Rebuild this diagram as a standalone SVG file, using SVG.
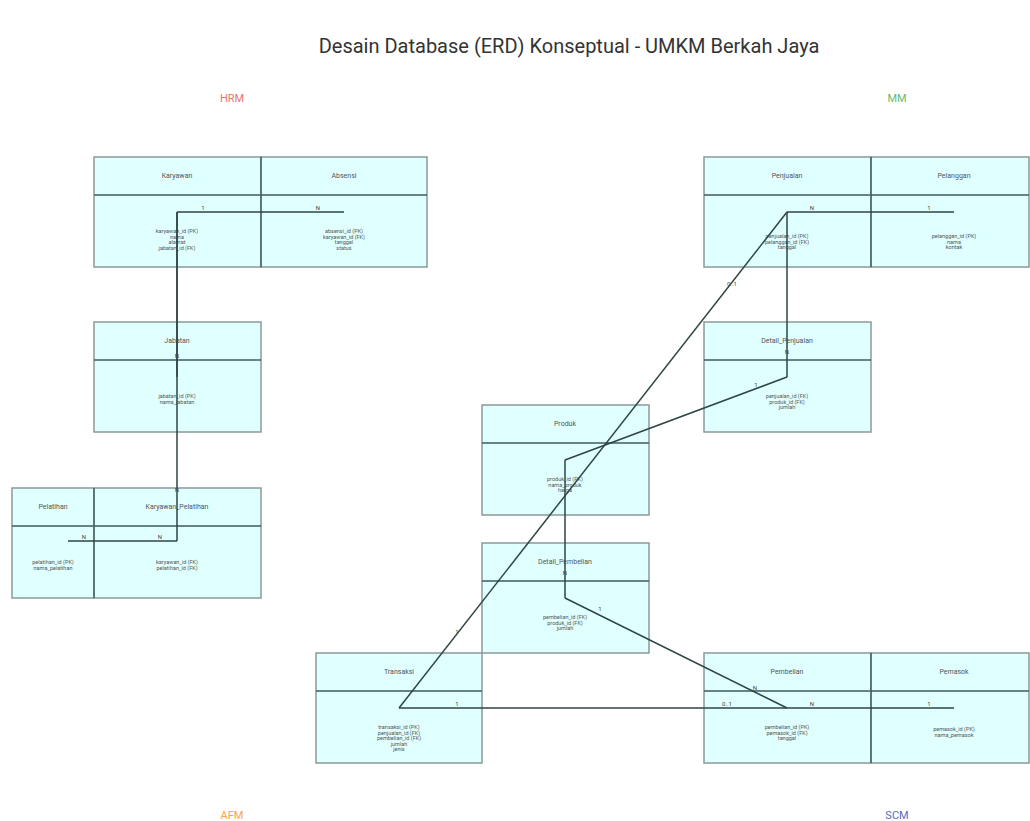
<svg xmlns="http://www.w3.org/2000/svg" width="1030" height="821" viewBox="0 0 1030 821">
<style>
.box{fill:#e0ffff;stroke:#8a9a9a;stroke-width:1.5}
.div{stroke:#3f5a5a;stroke-width:1.3}
.nm{font-family:Roboto,"Liberation Sans",sans-serif;font-size:7px;fill:#555;text-anchor:middle}
.at{font-family:Roboto,"Liberation Sans",sans-serif;font-size:5.5px;fill:#555;text-anchor:middle}
.cn{fill:none;stroke:#2f4545;stroke-width:1.5}
.lb{font-family:Roboto,"Liberation Sans",sans-serif;font-size:6px;fill:#444;text-anchor:middle}
.rg{font-family:Roboto,"Liberation Sans",sans-serif;font-size:11px;text-anchor:middle}
</style>
<rect width="1030" height="821" fill="#ffffff"/>
<text x="569" y="53" font-family="Roboto,'Liberation Sans',sans-serif" font-size="20" fill="#333" text-anchor="middle">Desain Database (ERD) Konseptual - UMKM Berkah Jaya</text>
<text class="rg" x="232" y="102" fill="#e57373">HRM</text>
<text class="rg" x="897" y="102" fill="#66bb6a">MM</text>
<text class="rg" x="232" y="819" fill="#ffa040">AFM</text>
<text class="rg" x="897" y="819" fill="#5c6bc0">SCM</text>

<g id="karyawan"><rect class="box" x="94" y="157" width="167" height="110"/><line class="div" x1="94" y1="195" x2="261" y2="195"/><text class="nm" x="177" y="178">Karyawan</text>
<text class="at" x="177" y="233">karyawan_id (PK)</text><text class="at" x="177" y="238.5">nama</text><text class="at" x="177" y="244">alamat</text><text class="at" x="177" y="249.5">jabatan_id (FK)</text></g>
<g id="absensi"><rect class="box" x="261" y="157" width="166" height="110"/><line class="div" x1="261" y1="195" x2="427" y2="195"/><line class="div" x1="261" y1="157" x2="261" y2="267"/><text class="nm" x="344" y="178">Absensi</text>
<text class="at" x="344" y="233">absensi_id (PK)</text><text class="at" x="344" y="238.5">karyawan_id (FK)</text><text class="at" x="344" y="244">tanggal</text><text class="at" x="344" y="249.5">status</text></g>
<g id="jabatan"><rect class="box" x="94" y="322" width="167" height="110"/><line class="div" x1="94" y1="360" x2="261" y2="360"/><text class="nm" x="177" y="343">Jabatan</text>
<text class="at" x="177" y="398">jabatan_id (PK)</text><text class="at" x="177" y="403.5">nama_jabatan</text></g>
<g id="pelatihan"><rect class="box" x="12" y="488" width="82" height="110"/><line class="div" x1="12" y1="526" x2="94" y2="526"/><text class="nm" x="53" y="509">Pelatihan</text>
<text class="at" x="53" y="564">pelatihan_id (PK)</text><text class="at" x="53" y="569.5">nama_pelatihan</text></g>
<g id="karyawan_pelatihan"><rect class="box" x="94" y="488" width="167" height="110"/><line class="div" x1="94" y1="526" x2="261" y2="526"/><line class="div" x1="94" y1="488" x2="94" y2="598"/><text class="nm" x="177" y="509">Karyawan_Pelatihan</text>
<text class="at" x="177" y="564">karyawan_id (FK)</text><text class="at" x="177" y="569.5">pelatihan_id (FK)</text></g>

<g id="penjualan"><rect class="box" x="704" y="157" width="167" height="110"/><line class="div" x1="704" y1="195" x2="871" y2="195"/><text class="nm" x="787" y="178">Penjualan</text>
<text class="at" x="787" y="238">penjualan_id (PK)</text><text class="at" x="787" y="243.5">pelanggan_id (FK)</text><text class="at" x="787" y="249">tanggal</text></g>
<g id="pelanggan"><rect class="box" x="871" y="157" width="158" height="110"/><line class="div" x1="871" y1="195" x2="1029" y2="195"/><line class="div" x1="871" y1="157" x2="871" y2="267"/><text class="nm" x="954" y="178">Pelanggan</text>
<text class="at" x="954" y="238">pelanggan_id (PK)</text><text class="at" x="954" y="243.5">nama</text><text class="at" x="954" y="249">kontak</text></g>
<g id="detail_penjualan"><rect class="box" x="704" y="322" width="167" height="110"/><line class="div" x1="704" y1="360" x2="871" y2="360"/><text class="nm" x="787" y="343">Detail_Penjualan</text>
<text class="at" x="787" y="398">penjualan_id (FK)</text><text class="at" x="787" y="403.5">produk_id (FK)</text><text class="at" x="787" y="409">jumlah</text></g>
<g id="produk"><rect class="box" x="482" y="405" width="167" height="110"/><line class="div" x1="482" y1="443" x2="649" y2="443"/><text class="nm" x="565" y="426">Produk</text>
<text class="at" x="565" y="481">produk_id (PK)</text><text class="at" x="565" y="486.5">nama_produk</text><text class="at" x="565" y="492">harga</text></g>
<g id="detail_pembelian"><rect class="box" x="482" y="543" width="167" height="110"/><line class="div" x1="482" y1="581" x2="649" y2="581"/><text class="nm" x="565" y="564">Detail_Pembelian</text>
<text class="at" x="565" y="619">pembelian_id (FK)</text><text class="at" x="565" y="624.5">produk_id (FK)</text><text class="at" x="565" y="630">jumlah</text></g>
<g id="transaksi"><rect class="box" x="316" y="653" width="166" height="110"/><line class="div" x1="316" y1="691" x2="482" y2="691"/><text class="nm" x="399" y="674">Transaksi</text>
<text class="at" x="399" y="729">transaksi_id (PK)</text><text class="at" x="399" y="734.5">penjualan_id (FK)</text><text class="at" x="399" y="740">pembelian_id (FK)</text><text class="at" x="399" y="745.5">jumlah</text><text class="at" x="399" y="751">jenis</text></g>
<g id="pembelian"><rect class="box" x="704" y="653" width="167" height="110"/><line class="div" x1="704" y1="691" x2="871" y2="691"/><text class="nm" x="787" y="674">Pembelian</text>
<text class="at" x="787" y="729">pembelian_id (PK)</text><text class="at" x="787" y="734.5">pemasok_id (FK)</text><text class="at" x="787" y="740">tanggal</text></g>
<g id="pemasok"><rect class="box" x="871" y="653" width="158" height="110"/><line class="div" x1="871" y1="691" x2="1029" y2="691"/><line class="div" x1="871" y1="653" x2="871" y2="763"/><text class="nm" x="954" y="674">Pemasok</text>
<text class="at" x="954" y="731">pemasok_id (PK)</text><text class="at" x="954" y="736.5">nama_pemasok</text></g>

<g id="connectors">
<line class="cn" x1="177" y1="212" x2="344" y2="212"/>
<line class="cn" x1="177" y1="212" x2="177" y2="377"/>
<line class="cn" x1="177" y1="212" x2="177" y2="541"/>
<line class="cn" x1="68" y1="541" x2="177" y2="541"/>
<line class="cn" x1="787" y1="212" x2="954" y2="212"/>
<line class="cn" x1="787" y1="212" x2="787" y2="377"/>
<line class="cn" x1="787" y1="377" x2="565" y2="460"/>
<line class="cn" x1="565" y1="460" x2="565" y2="598"/>
<line class="cn" x1="565" y1="598" x2="787" y2="708"/>
<line class="cn" x1="399" y1="708" x2="787" y2="708"/>
<line class="cn" x1="787" y1="708" x2="954" y2="708"/>
<line class="cn" x1="399" y1="708" x2="787" y2="212"/>
<text class="lb" x="203" y="210">1</text><text class="lb" x="318" y="210">N</text>
<text class="lb" x="177" y="358">N</text>
<text class="lb" x="177" y="492">N</text>
<text class="lb" x="84" y="539">N</text><text class="lb" x="160" y="539">N</text>
<text class="lb" x="812" y="210">N</text><text class="lb" x="929" y="210">1</text>
<text class="lb" x="787" y="354">N</text>
<text class="lb" x="756" y="387">1</text>
<text class="lb" x="565" y="575">N</text>
<text class="lb" x="600" y="611">1</text><text class="lb" x="755" y="690">N</text>
<text class="lb" x="457" y="706">1</text><text class="lb" x="727" y="706">0..1</text>
<text class="lb" x="812" y="706">N</text><text class="lb" x="929" y="706">1</text>
<text class="lb" x="732" y="286">0..1</text><text class="lb" x="457" y="634">1</text>
</g>
</svg>
